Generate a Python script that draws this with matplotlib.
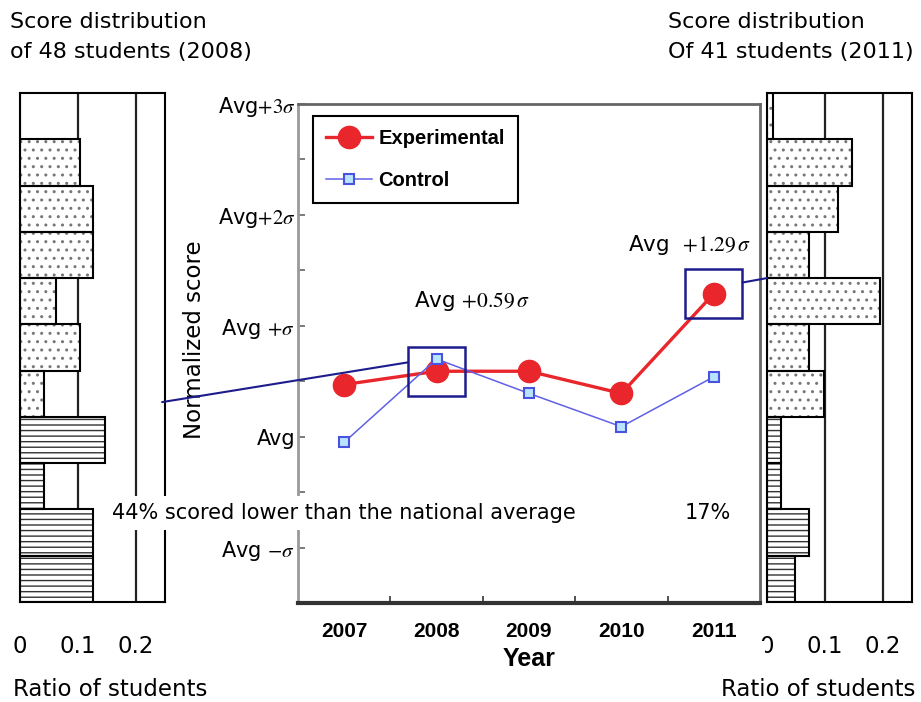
import matplotlib
matplotlib.use("Agg")
import matplotlib.pyplot as plt
from matplotlib.patches import Rectangle, ConnectionPatch
import numpy as np

# main chart (units of sigma from the national average)
years = [2007, 2008, 2009, 2010, 2011]
experimental = [0.47, 0.59, 0.59, 0.39, 1.29]
control = [-0.05, 0.70, 0.39, 0.09, 0.54]
ytick_vals = [-1, 0, 1, 2, 3]
ytick_labels = [r'Avg $-\sigma$', 'Avg', r'Avg $+\sigma$', r'Avg$+2\sigma$', r'Avg$+3\sigma$']

# score distributions, ratio of students per bin, top bin first
ratio_2008 = [0.0, 0.104, 0.125, 0.125, 0.0625, 0.104, 0.042, 0.146, 0.042, 0.125, 0.125]
ratio_2011 = [0.01, 0.146, 0.122, 0.073, 0.195, 0.073, 0.098, 0.024, 0.024, 0.073, 0.049]
n_below = 4          # bottom bins below national average (striped)
ratio_ticks = [0, 0.1, 0.2]

plt.rcParams['font.family'] = 'DejaVu Sans'
plt.rcParams['mathtext.fontset'] = 'stix'
plt.rcParams['hatch.linewidth'] = 1.0

W, H = 921, 702
fig = plt.figure(figsize=(W/100, H/100), dpi=100)

def px_axes(x0, y0, x1, y1):
    return fig.add_axes([x0/W, 1-y1/H, (x1-x0)/W, (y1-y0)/H])

def hist(ax, ratios):
    vals = ratios[::-1]
    pos = np.arange(len(vals))
    # hatch fill first (its colour follows the edge colour), then black outlines
    fill = ax.barh(pos, vals, height=1, align='edge', color='white', linewidth=0, zorder=2)
    for i, b in enumerate(fill):
        if i < n_below:
            b.set_hatch('---')
            b.set_edgecolor('#333333')
        else:
            b.set_hatch('..')
            b.set_edgecolor('#777777')
    ax.barh(pos, vals, height=1, align='edge', fill=False, edgecolor='black', linewidth=1.5, zorder=3)
    for x in ratio_ticks[1:]:
        ax.axvline(x, color='#222222', lw=1.6, zorder=1)
    ax.set_xlim(0, 0.25)
    ax.set_ylim(0, len(vals))
    ax.set_yticks([])
    ax.set_xticks(ratio_ticks)
    ax.set_xticklabels([f'{t:g}' for t in ratio_ticks], fontsize=16.5)
    ax.tick_params(axis='x', length=0, pad=24)
    for s in ax.spines.values():
        s.set_linewidth(1.5)

axL = px_axes(20, 93, 165, 602)
hist(axL, ratio_2008)
axR = px_axes(767, 93, 912, 602)
hist(axR, ratio_2011)

ax = px_axes(298, 104, 760, 603)
navy = '#1c1c8c'
ax.plot(years, experimental, '-o', color='#e8262b', lw=2.4, ms=16, label='Experimental', zorder=3)
ax.plot(years, control, '-s', color='#6060e6', lw=1.1, ms=7, mfc='#b8e4ff', mec='#4a52e0', mew=1.5,
        label='Control', zorder=3)
ax.set_xlim(years[0]-0.5, years[-1]+0.5)
ax.set_ylim(-1.5, 3)
ax.set_xticks(years)
ax.set_xticklabels([str(y) for y in years], fontfamily='Liberation Sans', fontweight='bold', fontsize=15)
ax.set_xticks(np.array(years[:-1]) + 0.5, minor=True)
ax.tick_params(axis='x', which='major', length=0, pad=14)
ax.tick_params(axis='x', which='minor', direction='in', length=5, width=1.2, color='#333333')
ax.set_yticks(ytick_vals)
ax.set_yticklabels(ytick_labels, fontsize=15)
ax.set_yticks(np.arange(-0.5, 3, 1.0), minor=True)
ax.tick_params(axis='y', which='both', direction='in', length=5, width=1.2, color='#666666', pad=2)
ax.set_xlabel('Year', fontfamily='Liberation Sans', fontweight='bold', fontsize=18, labelpad=4)
ax.set_ylabel('Normalized score', fontsize=16.5)
ax.yaxis.set_label_coords(-0.199, 0.527)
ax.spines['left'].set_color('#999999')
ax.spines['left'].set_linewidth(2)
ax.spines['bottom'].set_color('#333333')
ax.spines['bottom'].set_linewidth(3)
ax.spines['top'].set_color('#666666')
ax.spines['top'].set_linewidth(2)
ax.spines['right'].set_color('#666666')
ax.spines['right'].set_linewidth(2)

leg = ax.legend(loc='upper left', bbox_to_anchor=(0.032, 0.976), borderaxespad=0,
                prop={'family': 'Liberation Sans', 'weight': 'bold', 'size': 14.5},
                fancybox=False, edgecolor='black', framealpha=1, handlelength=2.3,
                borderpad=0.65, labelspacing=1.15, handletextpad=0.3)
leg.get_frame().set_linewidth(1.5)

# highlight boxes on 2008 and 2011
bw, bh = 0.62, 0.44
for i in (1, 4):
    ax.add_patch(Rectangle((years[i]-bw/2, experimental[i]-bh/2), bw, bh, fill=False,
                           edgecolor=navy, lw=1.8, zorder=4))
ax.text(years[1]+0.38, 1.22, r'Avg $+0.59\,\sigma$', fontsize=15.5, ha='center', va='center')
ax.text(years[4]-0.26, 1.73, r'Avg  $+1.29\,\sigma$', fontsize=15.5, ha='center', va='center')

fig.add_artist(ConnectionPatch(xyA=(0.245, 4.32), coordsA=axL.transData,
                               xyB=(years[1]-bw/2, experimental[1]+0.08), coordsB=ax.transData,
                               color=navy, lw=1.5))
fig.add_artist(ConnectionPatch(xyA=(years[4]+bw/2, experimental[4]+0.1), coordsA=ax.transData,
                               xyB=(0.0, 7.0), coordsB=axR.transData,
                               color=navy, lw=1.5))

fig.text(112/W, 1-513/H, '44% scored lower than the national average', fontsize=15,
         ha='left', va='center', zorder=6,
         bbox=dict(boxstyle='square,pad=0.35', facecolor='white', edgecolor='none'))
fig.text(708/W, 1-513/H, '17%', fontsize=15, ha='center', va='center')

fig.text(10/W, 1-12/H, 'Score distribution\nof 48 students (2008)', fontsize=16, ha='left', va='top',
         linespacing=1.6)
fig.text(668/W, 1-12/H, 'Score distribution\nOf 41 students (2011)', fontsize=16, ha='left', va='top',
         linespacing=1.6)
fig.text(110/W, 1-690/H, 'Ratio of students', fontsize=16.5, ha='center', va='center')
fig.text(818/W, 1-690/H, 'Ratio of students', fontsize=16.5, ha='center', va='center')

# the right "0" label is partly hidden by the main chart's white margin
fig.add_artist(Rectangle((745/W, 1-665/H), 20/W, 24/H, transform=fig.transFigure,
                         facecolor='white', edgecolor='none', zorder=5))

fig.savefig('out.png', dpi=100)
